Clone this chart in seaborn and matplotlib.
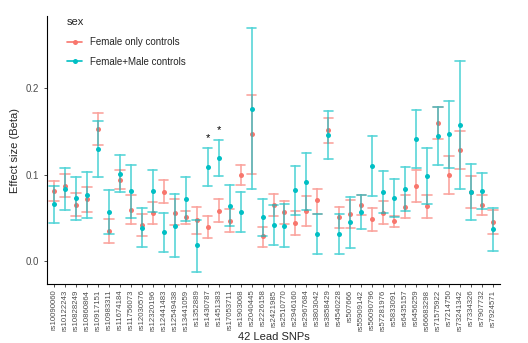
import numpy as np
import pandas as pd
import seaborn as sns
import matplotlib
matplotlib.use("Agg")
import matplotlib.pyplot as plt
from matplotlib.lines import Line2D
from matplotlib.colors import to_hex

snps = ["rs10090060", "rs10122243", "rs10828249", "rs10860864", "rs10917151", "rs10983311",
        "rs11674184", "rs11756073", "rs12030576", "rs12320196", "rs12441483", "rs12549438",
        "rs13441059", "rs1352889", "rs1430787", "rs1451383", "rs17053711", "rs1903068",
        "rs2040445", "rs2226158", "rs2421985", "rs2510770", "rs2946160", "rs2967684",
        "rs3803042", "rs3858429", "rs4540228", "rs507666", "rs55909142", "rs56090796",
        "rs57281976", "rs5833091", "rs6435157", "rs6456259", "rs66683298", "rs71575922",
        "rs7214750", "rs73241342", "rs7334326", "rs7907732", "rs7924571"]

fem_est = [0.0809, 0.0871, 0.0646, 0.0712, 0.1524, 0.0341, 0.0940, 0.0592, 0.0418, 0.0557,
           0.0801, 0.0557, 0.0503, 0.0468, 0.0395, 0.0577, 0.0464, 0.0998, 0.1466, 0.0283,
           0.0642, 0.0561, 0.0437, 0.0577, 0.0708, 0.1512, 0.0503, 0.0546, 0.0650, 0.0480,
           0.0553, 0.0457, 0.0627, 0.0867, 0.0631, 0.1597, 0.0990, 0.1284, 0.0793, 0.0642,
           0.0445]
fem_lo = [0.0696, 0.0743, 0.0515, 0.0565, 0.1338, 0.0201, 0.0828, 0.0422, 0.0290, 0.0426,
          0.0670, 0.0410, 0.0422, 0.0310, 0.0267, 0.0445, 0.0333, 0.0878, 0.1002, 0.0159,
          0.0515, 0.0426, 0.0294, 0.0406, 0.0542, 0.1369, 0.0383, 0.0379, 0.0530, 0.0345,
          0.0422, 0.0391, 0.0491, 0.0685, 0.0499, 0.1408, 0.0770, 0.1063, 0.0611, 0.0526,
          0.0306]
fem_hi = [0.0925, 0.1006, 0.0782, 0.0859, 0.1709, 0.0480, 0.1056, 0.0766, 0.0546, 0.0685,
          0.0932, 0.0720, 0.0580, 0.0619, 0.0519, 0.0712, 0.0596, 0.1114, 0.1926, 0.0395,
          0.0774, 0.0696, 0.0580, 0.0751, 0.0836, 0.1655, 0.0623, 0.0708, 0.0766, 0.0611,
          0.0693, 0.0522, 0.0758, 0.1048, 0.0762, 0.1787, 0.1210, 0.1504, 0.0978, 0.0758,
          0.0588]

fm_est = [0.0654, 0.0832, 0.0724, 0.0762, 0.1296, 0.0565, 0.1010, 0.0805, 0.0383, 0.0805,
          0.0329, 0.0406, 0.0716, 0.0178, 0.1091, 0.1195, 0.0638, 0.0565, 0.1764, 0.0503,
          0.0410, 0.0406, 0.0816, 0.0917, 0.0310, 0.1454, 0.0306, 0.0445, 0.0565, 0.1098,
          0.0793, 0.0723, 0.0832, 0.1412, 0.0986, 0.1442, 0.1466, 0.1574, 0.0797, 0.0804,
          0.0364]
fm_lo = [0.0434, 0.0588, 0.0468, 0.0495, 0.0975, 0.0306, 0.0797, 0.0499, 0.0155, 0.0561,
         0.0097, 0.0039, 0.0464, -0.0128, 0.0870, 0.0983, 0.0399, 0.0333, 0.0832, 0.0286,
         0.0178, 0.0155, 0.0534, 0.0588, 0.0077, 0.1176, 0.0074, 0.0151, 0.0372, 0.0754,
         0.0549, 0.0503, 0.0573, 0.1071, 0.0658, 0.1106, 0.1079, 0.0836, 0.0468, 0.0596,
         0.0116]
fm_hi = [0.0867, 0.1079, 0.0975, 0.1025, 0.1625, 0.0824, 0.1223, 0.1114, 0.0615, 0.1048,
         0.0557, 0.0770, 0.0967, 0.0472, 0.1311, 0.1404, 0.0882, 0.0793, 0.2696, 0.0712,
         0.0642, 0.0654, 0.1095, 0.1249, 0.0542, 0.1733, 0.0538, 0.0739, 0.0766, 0.1443,
         0.1044, 0.0944, 0.1083, 0.1752, 0.1311, 0.1787, 0.1852, 0.2317, 0.1121, 0.1013,
         0.0611]

starred = ["rs1430787", "rs1451383"]

groups = ["Female only controls", "Female+Male controls"]
colors = ["#F8766D", "#00BFC4"]

rows = []
for g, est, lo, hi in [(groups[0], fem_est, fem_lo, fem_hi), (groups[1], fm_est, fm_lo, fm_hi)]:
    for s, e, l, h in zip(snps, est, lo, hi):
        for v in (l, e, h):
            rows.append({"snp": s, "sex": g, "beta": v})
df = pd.DataFrame(rows)

sns.set_style("ticks")
plt.rcParams['font.family'] = ['Liberation Sans', 'DejaVu Sans']

fig = plt.figure(figsize=(5.28, 3.43), dpi=100)
ax = fig.add_axes([0.089, 0.172, 0.858, 0.781])

sns.pointplot(data=df, x="snp", y="beta", hue="sex", order=snps, hue_order=groups,
              palette=colors, estimator="median", errorbar=("pi", 100),
              dodge=False, linestyle="none", capsize=0.9,
              err_kws={"linewidth": 1.2}, ax=ax, legend=False)

# layering: salmon bars < salmon points < teal bars < teal points
for ln in ax.lines:
    c = to_hex(ln.get_color()).lower()
    is_marker = ln.get_marker() not in (None, "None", "", " ")
    level = 0 if c == colors[0].lower() else 1
    if is_marker:
        ln.set_zorder(2.5 + 2 * level)
        ln.set_markersize(3.6)
        ln.set_markeredgewidth(0)
    else:
        ln.set_zorder(2 + 2 * level)
        ln.set_alpha(0.65)

for s in starred:
    i = snps.index(s)
    ax.text(i, fm_hi[i] + 0.011, "*", ha="center", va="center", fontsize=8, color="black")

ax.set_xlim(-0.6, len(snps) - 0.4)
ax.set_ylim(-0.0269, 0.2837)
ax.set_yticks([0.0, 0.1, 0.2])
ax.set_yticklabels(["0.0", "0.1", "0.2"])
ax.tick_params(axis="x", labelrotation=90, labelsize=5.6, colors="#4D4D4D", length=2.5, width=0.7, pad=1.5)
ax.tick_params(axis="y", labelsize=7, colors="#4D4D4D", length=2.5, width=0.7)
for lab in ax.get_xticklabels() + ax.get_yticklabels():
    lab.set_color("#4D4D4D")
ax.set_xlabel("42 Lead SNPs", fontsize=8, labelpad=1)
ax.set_ylabel("Effect size (Beta)", fontsize=8, labelpad=4)
sns.despine(ax=ax)
for sp in ["left", "bottom"]:
    ax.spines[sp].set_color("black")
    ax.spines[sp].set_linewidth(0.8)

handles = [Line2D([0], [0], color=c, marker="o", markersize=3.6, linewidth=1.2, markeredgewidth=0) for c in colors]
leg = ax.legend(handles, groups, title="sex", loc="upper left", bbox_to_anchor=(0.035, 1.01),
                frameon=False, fontsize=7, title_fontsize=8, handlelength=1.6,
                handletextpad=0.8, labelspacing=1.0, borderaxespad=0)
leg._legend_box.align = "left"

fig.savefig("out.png", dpi=100)
